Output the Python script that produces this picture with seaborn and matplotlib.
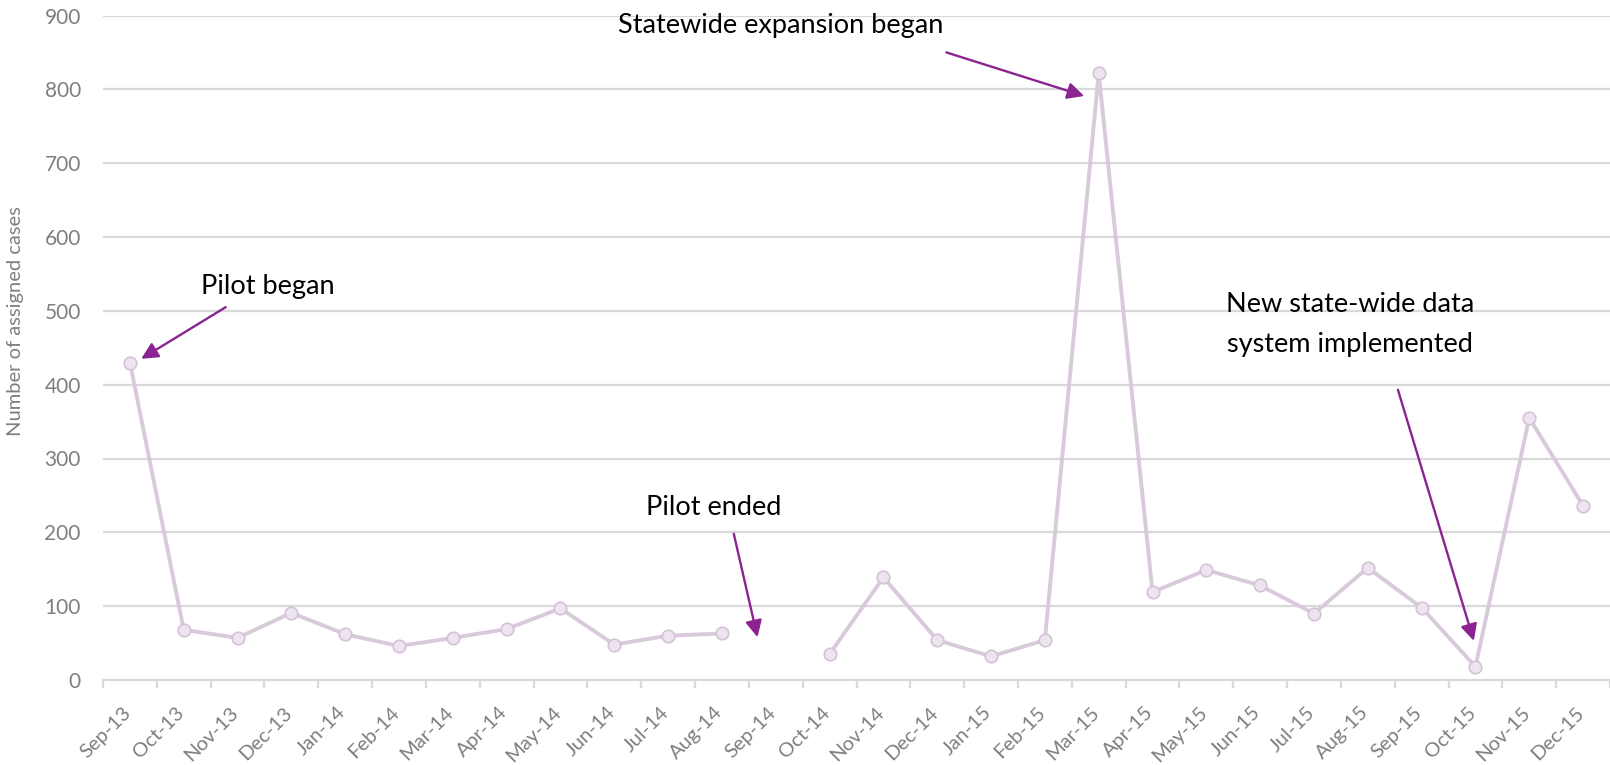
import numpy as np
import pandas as pd
import seaborn as sns
import matplotlib
matplotlib.use("Agg")
import matplotlib.pyplot as plt
from matplotlib.transforms import ScaledTranslation

# Monthly assigned cases
months = ["Sep-13", "Oct-13", "Nov-13", "Dec-13", "Jan-14", "Feb-14", "Mar-14",
          "Apr-14", "May-14", "Jun-14", "Jul-14", "Aug-14", "Sep-14", "Oct-14",
          "Nov-14", "Dec-14", "Jan-15", "Feb-15", "Mar-15", "Apr-15", "May-15",
          "Jun-15", "Jul-15", "Aug-15", "Sep-15", "Oct-15", "Nov-15", "Dec-15"]
cases = [430, 68, 57, 91, 62, 46, 57, 69, 97, 48, 60, 63, np.nan, 35,
         139, 54, 32, 54, 822, 119, 149, 128, 90, 152, 98, 18, 355, 236]

# Event annotations: label, text position (x index, y), arrow tail, arrow tip
events = [
    ("Pilot began", (2.56, 533), (1.78, 505), (0.21, 435)),
    ("Statewide expansion began", (12.09, 886), (15.17, 850), (17.73, 791)),
    ("Pilot ended", (10.84, 233), (11.22, 198), (11.66, 58)),
    ("New state-wide data\nsystem implemented", (22.67, 482), (23.56, 393), (24.97, 53)),
]

sns.set_theme(style="white")
plt.rcParams["font.family"] = ["Lato", "DejaVu Sans"]

df = pd.DataFrame({"pos": np.arange(len(months)), "cases": cases})
# the missing month splits the series into separately drawn runs
df["run"] = df["cases"].isna().cumsum()
df = df.dropna()

fig = plt.figure(figsize=(16.1, 7.65), dpi=100)
ax = fig.add_axes([103 / 1610, 85 / 765, 1507 / 1610, 664.5 / 765])

grid_color = "#D9D9D9"
label_gray = "#7F7F7F"
line_color = "#D9CADB"
arrow_color = "#8B2391"

ax.set_ylim(0, 900)
ax.set_xlim(-0.5, len(months) - 0.5)
ax.set_yticks(np.arange(0, 901, 100))
for yv in np.arange(100, 901, 100):
    ax.axhline(yv, color=grid_color, lw=1.6, zorder=0)

sns.lineplot(data=df, x="pos", y="cases", units="run", estimator=None,
             color=line_color, lw=2.8, marker="o", markersize=9,
             markerfacecolor="#EEE4EF", markeredgecolor="#D3C2D6",
             markeredgewidth=1.2, ax=ax, zorder=3, legend=False)

for side in ["top", "right", "left"]:
    ax.spines[side].set_visible(False)
ax.spines["bottom"].set_color(grid_color)
ax.spines["bottom"].set_linewidth(1.6)

ax.set_xticks(np.arange(len(months)))
ax.set_xticklabels(months, rotation=45, ha="right", fontsize=14.5, color=label_gray)
ax.set_xticks(np.arange(-0.5, len(months), 1), minor=True)
ax.tick_params(axis="x", which="major", length=0, pad=17)
ax.tick_params(axis="x", which="minor", length=6, width=1.6, color=grid_color,
               direction="out", bottom=True)
shift = ScaledTranslation(4 / 100, 0, fig.dpi_scale_trans)
for lbl in ax.get_xticklabels():
    lbl.set_transform(lbl.get_transform() + shift)

ax.tick_params(axis="y", length=0, pad=16, labelsize=15, labelcolor=label_gray)
ax.set_xlabel("")
ax.set_ylabel("Number of assigned cases", fontsize=14.5, color=label_gray)
ax.yaxis.set_label_coords(-(103 - 24) / 1507, (680 - 321) / 664.5)

for text, tpos, tail, tip in events:
    ax.text(tpos[0], tpos[1], text, ha="center", va="center", fontsize=19.5,
            color="black", linespacing=1.75, zorder=5)
    ax.annotate("", xy=tip, xytext=tail,
                arrowprops=dict(arrowstyle="-|>", color=arrow_color, lw=1.7,
                                mutation_scale=25, shrinkA=0, shrinkB=0),
                zorder=5)

fig.savefig("out.png", dpi=100)
